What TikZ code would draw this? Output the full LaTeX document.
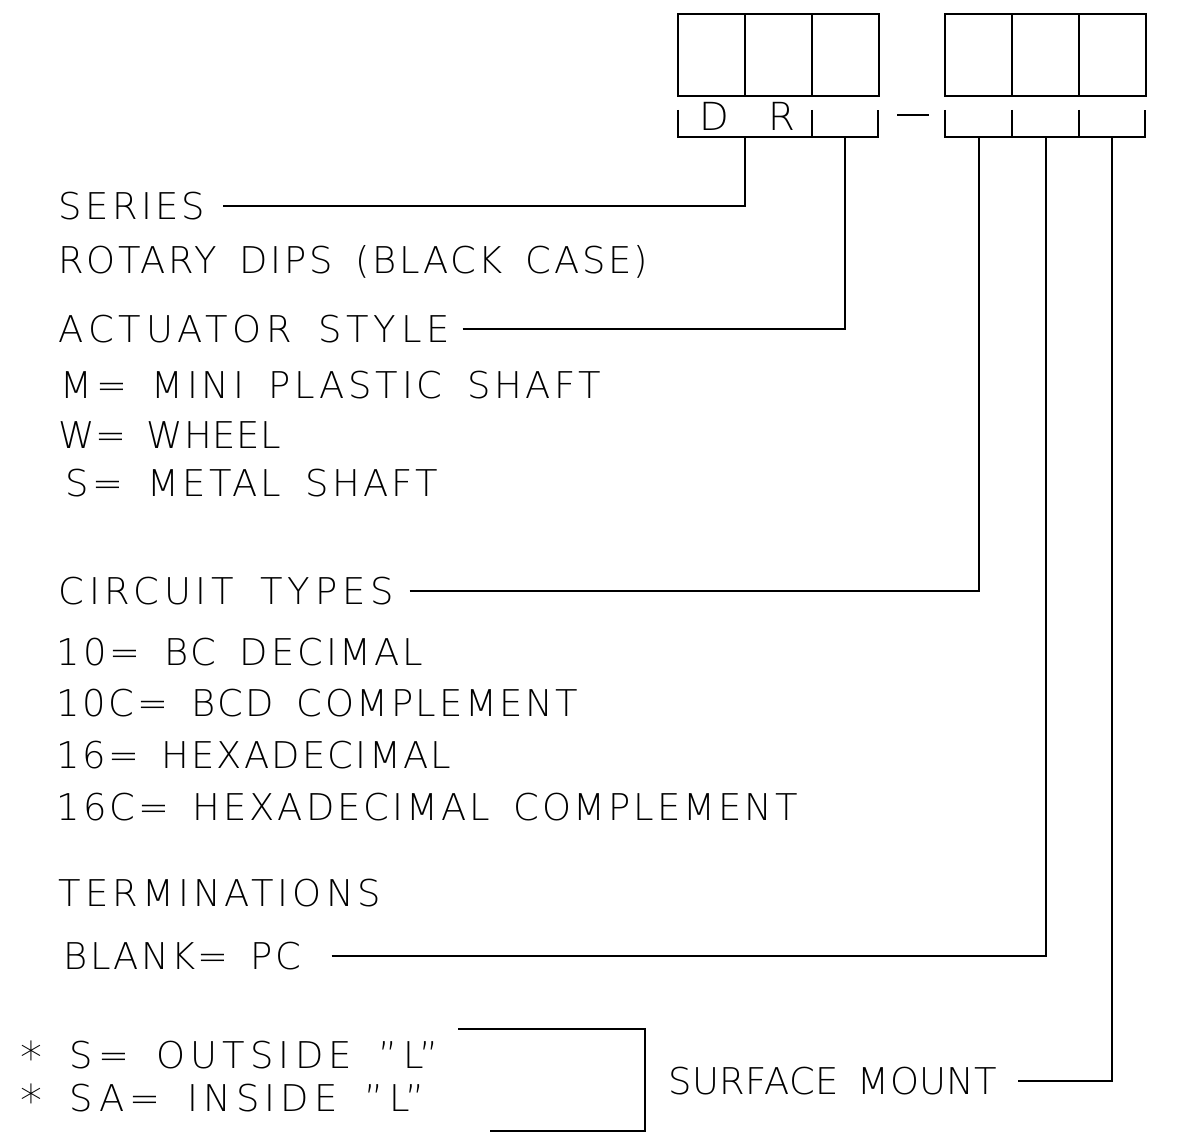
\documentclass[tikz,border=0pt]{standalone}
\usepackage{fontspec}
\newfontfamily\cadfont{DejaVu Sans ExtraLight}[LetterSpace=8,WordSpace=1.6]
\usetikzlibrary{positioning,calc}
\newcommand\bigstar{\smash{\raisebox{-3pt}{\fontsize{25}{25}\selectfont*}}}

\begin{document}
\begin{tikzpicture}[
      x=0.02cm, y=-0.02cm,
      line width=0.9pt,
      every node/.style={font=\cadfont\fontsize{21}{24}\selectfont, inner sep=0pt,
          text height=15pt, text depth=0pt},
      lbl/.style={anchor=west,
          font=\cadfont\fontsize{21}{24}\selectfont\addfontfeatures{LetterSpace=#1}},
      lbl/.default=8,
      ld/.style={line width=0.9pt},
    ]
    \useasboundingbox (0,0) rectangle (1177,1148);

    % code boxes
    \foreach \x in {678,745,812,945,1012,1079}
    \draw (\x,14) rectangle ++(67,82);

    % lower brackets
    \draw (678,110) -- (678,137) -- (878,137) -- (878,110);
    \draw (812,110) -- (812,137);
    \draw (945,110) -- (945,137) -- (1145,137) -- (1145,110);
    \foreach \x in {1012,1079}
    \draw (\x,110) -- (\x,137);
    \node[font=\cadfont\fontsize{22}{24}\selectfont, text height=16pt] (d) at (714,116) {D};
    \node[font=\cadfont\fontsize{22}{24}\selectfont, text height=16pt] (r) at (782,116) {R};
    \draw (897,115) -- (929,115);

    % drop points
    \coordinate (t1) at (745,137);
    \coordinate (t2) at (845,137);
    \coordinate (t3) at (979,137);
    \coordinate (t4) at (1046,137);
    \coordinate (t5) at (1112,137);

    % labels
    \node[lbl=9]  (ser) at (58,206) {SERIES};
    \node[lbl=7]  (rot) at (58,260) {ROTARY DIPS (BLACK CASE)};
    \node[lbl=13] (act) at (58,329) {ACTUATOR STYLE};
    \node[lbl=10] (am)  at (60,385) {M= MINI PLASTIC SHAFT};
    \node[lbl=2]  (aw)  at (58,435) {W= WHEEL};
    \node[lbl=9]  (as)  at (65,483) {S= METAL SHAFT};
    \node[lbl=13] (cir) at (58,591) {CIRCUIT TYPES};
    \node[lbl]    (c1)  at (56,652) {10= BC DECIMAL};
    \node[lbl=7]  (c2)  at (56,703) {10C= BCD COMPLEMENT};
    \node[lbl=6]  (c3)  at (56,755) {16= HEXADECIMAL};
    \node[lbl]    (c4)  at (56,807) {16C= HEXADECIMAL COMPLEMENT};
    \node[lbl=11] (ter) at (58,893) {TERMINATIONS};
    \node[lbl=6]  (bl)  at (63,956) {BLANK= PC};
    \node[lbl=14] (so)  at (20,1055) {\bigstar\ S= OUTSIDE ”L”};
    \node[lbl=14] (si)  at (20,1098) {\bigstar\ SA= INSIDE ”L”};
    \node[lbl=1]  (sm)  at (668,1081) {SURFACE MOUNT};

    % leaders
    \draw[ld] ([xshift=0.34cm]ser.east) -| (t1);
    \draw[ld] ([xshift=0.24cm]act.east) -| (t2);
    \draw[ld] ([xshift=0.3cm]cir.east) -| (t3);
    \draw[ld] ([xshift=0.6cm]bl.east) -| (t4);
    \draw[ld] ([xshift=0.4cm]sm.east) -| (t5);

    % surface mount bracket
    \coordinate (b1) at (458,1029);
    \coordinate (b2) at (645,1029);
    \coordinate (b3) at (645,1131);
    \coordinate (b4) at (490,1131);
    \draw (b1) -- (b2) -- (b3) -- (b4);
  \end{tikzpicture}
\end{document}
